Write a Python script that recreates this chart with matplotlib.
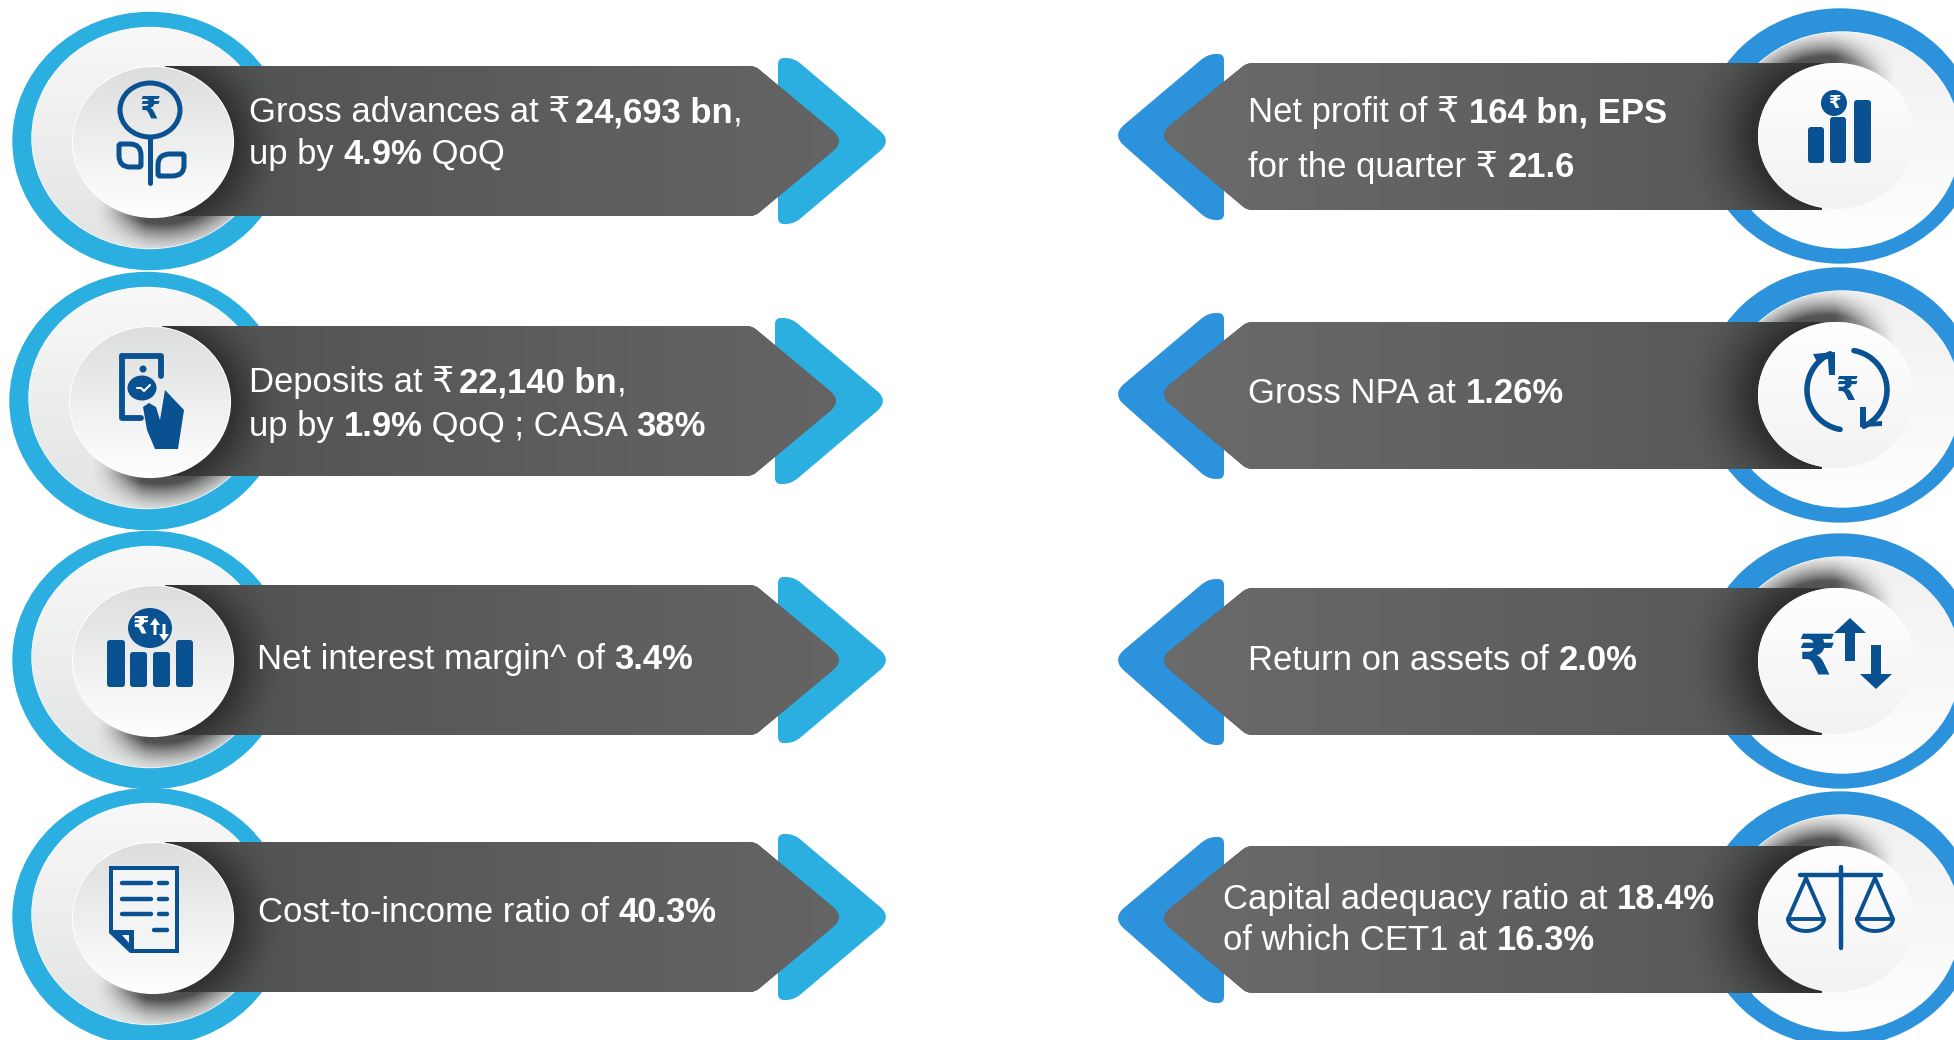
#!/usr/bin/env python3
"""plot.py -- quarterly highlights infographic, eight arrow cards."""
import matplotlib
matplotlib.use("Agg")
import matplotlib.pyplot as plt
import numpy as np
from matplotlib.colors import to_rgb
from matplotlib.patches import Circle, Ellipse, FancyBboxPatch, PathPatch, Polygon
from matplotlib.path import Path

# text of the cards, one list of (text, bold) runs per line
left_labels = [
    [[("Gross advances at ₹ ", 0), ("24,693 bn", 1), (",", 0)],
     [("up by ", 0), ("4.9%", 1), (" QoQ", 0)]],
    [[("Deposits at ₹ ", 0), ("22,140 bn", 1), (",", 0)],
     [("up by ", 0), ("1.9%", 1), (" QoQ ; CASA ", 0), ("38%", 1)]],
    [[("Net interest margin^ of ", 0), ("3.4%", 1)]],
    [[("Cost-to-income ratio of ", 0), ("40.3%", 1)]],
]
right_labels = [
    [[("Net profit of ₹ ", 0), ("164 bn, EPS", 1)],
     [("for the quarter ₹ ", 0), ("21.6", 1)]],
    [[("Gross NPA at ", 0), ("1.26%", 1)]],
    [[("Return on assets of ", 0), ("2.0%", 1)]],
    [[("Capital adequacy ratio at ", 0), ("18.4%", 1)],
     [("of which CET1 at ", 0), ("16.3%", 1)]],
]

# layout, in pixels of the 1954x1040 picture
left_cy = [141, 401, 660, 917]
left_dx = [0, -3, 0, 0]
left_text = [[(249, 122), (249, 164)], [(249, 392), (249, 436)], [(257, 669)], [(258, 922)]]
right_cy = [137, 396, 662, 920]
right_text = [[(1248, 122), (1248, 177)], [(1248, 403)], [(1248, 670)], [(1223, 909), (1223, 950)]]

FONT = ["Liberation Sans", "DejaVu Sans"]
FS = 24.9
LEFT_BLUE = "#2baee0"
RIGHT_BLUE = "#2d92dc"
ICON = "#0a5191"

fig = plt.figure(figsize=(19.54, 10.4), dpi=100)
ax = fig.add_axes([0, 0, 1, 1])
ax.set_xlim(0, 1954)
ax.set_ylim(1040, 0)
ax.axis("off")
renderer = fig.canvas.get_renderer()


def rounded(pts, radii):
    """Closed path through pts, each corner rounded by its own radius."""
    pts = [np.array(p, float) for p in pts]
    n = len(pts)
    verts, codes = [], []
    for i in range(n):
        p, a, b = pts[i], pts[i - 1], pts[(i + 1) % n]
        r1 = min(radii[i], np.linalg.norm(a - p) / 2)
        r2 = min(radii[i], np.linalg.norm(b - p) / 2)
        s = p + (a - p) / np.linalg.norm(a - p) * r1
        e = p + (b - p) / np.linalg.norm(b - p) * r2
        verts += [s, p, e]
        codes += [Path.MOVETO if i == 0 else Path.LINETO, Path.CURVE3, Path.CURVE3]
    verts.append(verts[0])
    codes.append(Path.CLOSEPOLY)
    return Path(verts, codes)


def gradient(box, c0, c1, clip, z, vertical=False):
    x0, x1, y0, y1 = box
    c0, c1 = np.array(to_rgb(c0)), np.array(to_rgb(c1))
    t = np.linspace(0, 1, 256)
    img = c0[None, :] + (c1 - c0)[None, :] * t[:, None]
    img = img[:, None, :] if vertical else img[None, :, :]
    im = ax.imshow(img, extent=(x0, x1, y1, y0), aspect="auto", zorder=z, interpolation="bilinear")
    im.set_clip_path(clip)


def glow(cx, cy, rx, ry, spread, alpha, clip, z, box, mask=None):
    """Dark shadow fading out from the edge of an ellipse."""
    x0, x1, y0, y1 = box
    xx, yy = np.meshgrid(np.linspace(x0, x1, 300), np.linspace(y0, y1, 300))
    d = (np.hypot((xx - cx) / rx, (yy - cy) / ry) - 1) * min(rx, ry)
    a = np.clip(1 - d / spread, 0, 1) ** 1.6 * alpha
    if mask is not None:
        a = a * mask(xx, yy)
    img = np.zeros(xx.shape + (4,))
    img[..., :3] = 0.12
    img[..., 3] = a
    im = ax.imshow(img, extent=(x0, x1, y1, y0), aspect="auto", zorder=z, interpolation="bilinear")
    im.set_clip_path(clip)


def write_line(x, y, runs, rupee_gap=0):
    """Draw regular and bold runs one after the other on a baseline."""
    for s, bold in runs:
        weight = "bold" if bold else "normal"
        ax.text(x, y, s, color="white", fontsize=FS, family=FONT, fontweight=weight, va="baseline", zorder=12)
        a = ax.text(0, 0, s + "|", fontsize=FS, family=FONT, fontweight=weight)
        b = ax.text(0, 0, "|", fontsize=FS, family=FONT, fontweight=weight)
        x += a.get_window_extent(renderer).width - b.get_window_extent(renderer).width
        if s.endswith("₹ "):
            x -= rupee_gap
        a.remove()
        b.remove()


def left_card(cy, dx):
    ax.add_patch(Ellipse((150 + dx, cy), 274, 257, color=LEFT_BLUE, zorder=1))
    plate = Ellipse((150 + dx, cy - 3), 236, 221, color="white", zorder=2)
    ax.add_patch(plate)
    gradient((30 + dx, 270 + dx, cy - 115, cy + 110), "#f8f8f8", "#e2e3e3", plate, 3, vertical=True)
    band = lambda xx, yy: np.clip((yy - cy - 45) / 30, 0, 1) * np.clip((xx - 95 - dx) / 50, 0, 1)
    glow(163 + dx, cy + 8, 80, 75, 30, 0.75, plate, 4, (40 + dx, 280 + dx, cy + 30, cy + 120), band)
    chev = rounded([(778 + dx, cy - 83), (794 + dx, cy - 83), (892 + dx, cy), (794 + dx, cy + 83),
                    (778 + dx, cy + 83)], [6, 9, 16, 9, 6])
    ax.add_patch(PathPatch(chev, color=LEFT_BLUE, lw=0, zorder=5))
    bar = PathPatch(rounded([(165 + dx, cy - 75), (755 + dx, cy - 75), (845 + dx, cy), (755 + dx, cy + 75),
                             (165 + dx, cy + 75)], [1, 5, 16, 5, 1]), color="#5e5f5e", lw=0, zorder=6)
    ax.add_patch(bar)
    gradient((165 + dx, 850 + dx, cy - 75, cy + 75), "#505251", "#656565", bar, 7)
    glow(158 + dx, cy + 3, 80, 75, 48, 0.62, bar, 8, (165 + dx, 320 + dx, cy - 76, cy + 76))
    disc = Ellipse((153 + dx, cy + 1), 160, 150, fc="white", ec="white", lw=1.5, zorder=9)
    ax.add_patch(disc)
    gradient((70 + dx, 236 + dx, cy - 75, cy + 76), "#dcdddd", "#ffffff", disc, 9.5, vertical=True)


def right_card(cy):
    ax.add_patch(Ellipse((1840, cy - 1), 274, 254, color=RIGHT_BLUE, zorder=1))
    plate = Ellipse((1842, cy + 3), 236, 216, color="white", zorder=2)
    ax.add_patch(plate)
    gradient((1720, 1960, cy - 105, cy + 110), "#f0f0f0", "#ffffff", plate, 3, vertical=True)
    band = lambda xx, yy: np.clip((cy - 35 - yy) / 30, 0, 1) * np.clip((1895 - xx) / 60, 0, 1)
    glow(1826, cy - 6, 80, 75, 28, 0.75, plate, 4, (1720, 1960, cy - 110, cy), band)
    chev = rounded([(1224, cy - 83), (1208, cy - 83), (1112, cy - 2), (1208, cy + 83),
                    (1224, cy + 83)], [6, 9, 16, 9, 6])
    ax.add_patch(PathPatch(chev, color=RIGHT_BLUE, lw=0, zorder=5))
    bar = PathPatch(rounded([(1822, cy - 74), (1247, cy - 74), (1158, cy - 2), (1247, cy + 73),
                             (1822, cy + 73)], [1, 5, 16, 5, 1]), color="#5e5f5e", lw=0, zorder=6)
    ax.add_patch(bar)
    gradient((1155, 1822, cy - 75, cy + 75), "#6b6b6b", "#545656", bar, 7)
    glow(1830, cy - 1, 78, 73, 62, 0.68, bar, 8, (1660, 1830, cy - 76, cy + 76))
    disc = Ellipse((1836, cy - 1), 156, 146, fc="white", lw=0, zorder=9)
    ax.add_patch(disc)
    gradient((1755, 1918, cy - 75, cy + 73), "#ffffff", "#f2f2f2", disc, 9.5, vertical=True)


def rupee(x, y, size, color=ICON):
    ax.text(x, y, "₹", color=color, fontsize=size, family=FONT, fontweight="bold", ha="center", va="center", zorder=11)


def fill(pts, color=ICON):
    ax.add_patch(Polygon(pts, closed=True, fc=color, ec="none", zorder=10.5))


def stroke(pts, lw=4.0, color=ICON):
    xs, ys = zip(*pts)
    ax.plot(xs, ys, color=color, lw=lw, solid_capstyle="round", solid_joinstyle="round", zorder=10.5)


def ring(x, y, rx, ry, lw=3.6):
    ax.add_patch(Ellipse((x, y), 2 * rx, 2 * ry, fc="none", ec=ICON, lw=lw, zorder=10.5))


def pill(x0, y0, x1, y1, r=4, color=ICON):
    ax.add_patch(FancyBboxPatch((x0 + r, y0 + r), x1 - x0 - 2 * r, y1 - y0 - 2 * r,
                                boxstyle=f"round,pad={r},rounding_size={r}", fc=color, ec="none", zorder=10.5))


def arrow_up(x, top, bottom, hw, sw, hh, color=ICON):
    fill([(x, top), (x + hw, top + hh), (x + sw, top + hh), (x + sw, bottom),
          (x - sw, bottom), (x - sw, top + hh), (x - hw, top + hh)], color)


def arrow_down(x, top, bottom, hw, sw, hh, color=ICON):
    fill([(x, bottom), (x + hw, bottom - hh), (x + sw, bottom - hh), (x + sw, top),
          (x - sw, top), (x - sw, bottom - hh), (x - hw, bottom - hh)], color)


def leaf(pts, radii):
    ax.add_patch(PathPatch(rounded(pts, radii), fc="none", ec=ICON, lw=3.6, zorder=10.5))


def icon_flower():
    ring(150, 110, 30, 27)
    rupee(150, 110, 22)
    stroke([(150, 137), (150, 183)], 3.6)
    leaf([(119, 144), (141, 144), (141, 167), (119, 167)], [2, 12, 2, 12])
    leaf([(158, 154), (184, 154), (184, 176), (158, 176)], [12, 2, 12, 2])


def icon_note():
    stroke([(122, 356), (161, 356), (161, 376)], 4.2)
    stroke([(122, 356), (122, 418), (141, 418)], 4.2)
    ax.add_patch(Circle((143, 369), 3.5, fc=ICON, ec="none", zorder=10.5))
    ax.add_patch(Ellipse((142, 388), 29, 25, fc=ICON, ec="none", zorder=10.5))
    stroke([(137, 388), (141, 388), (144, 391), (150, 385)], 1.5, "white")
    fill([(143, 407), (149, 403), (156, 407), (160, 420), (165, 390), (184, 410), (178, 449),
          (155, 449), (147, 430)])


def icon_bars():
    for x0, x1, y0 in [(107, 125, 640), (130, 147, 652), (153, 170, 652), (176, 193, 640)]:
        pill(x0, y0, x1, 687, 3)
    ax.add_patch(Ellipse((150, 628), 44, 40, fc=ICON, ec="none", zorder=10.5))
    rupee(141, 627, 17, "white")
    arrow_up(155, 618, 635, 5, 1.5, 7, "white")
    arrow_down(164, 624, 641, 5, 1.5, 7, "white")


def icon_doc():
    fill([(109, 866), (179, 866), (179, 953), (130, 953), (109, 933)], ICON)
    fill([(113, 870), (175, 870), (175, 949), (134, 949), (134, 930), (113, 930)], "#f3f4f4")
    fill([(122, 935), (129, 935), (129, 943)], "#f3f4f4")
    for y in [883, 899, 914]:
        stroke([(122, y), (151, y)], 3.2)
        stroke([(159, y), (167, y)], 3.2)
    stroke([(154, 930), (167, 930)], 3.2)


def icon_chart():
    for x0, x1, y0 in [(1808, 1824, 127), (1830, 1846, 117), (1854, 1871, 100)]:
        pill(x0, y0, x1, 163, 3)
    ax.add_patch(Ellipse((1834, 103), 26, 26, fc=ICON, ec="none", zorder=10.5))
    rupee(1834, 103, 13, "white")


def icon_cycle():
    def arc(t0, t1):
        t = np.radians(np.linspace(t0, t1, 40))
        return list(zip(1847 + 40 * np.cos(t), 390 + 40 * np.sin(t)))
    stroke(arc(100, 245), 4)
    stroke(arc(-80, 65), 4)
    fill([(1813, 354), (1835, 352), (1835, 375), (1829, 375), (1828, 359), (1816, 360)])
    fill([(1860, 407), (1866, 407), (1866, 422), (1882, 421), (1882, 426), (1860, 427)])
    rupee(1847, 392, 24)


def icon_updown():
    rupee(1817, 660, 40)
    arrow_up(1850, 618, 661, 16, 5, 15)
    arrow_down(1876, 645, 689, 16, 5, 15)


def icon_scale():
    stroke([(1841, 867), (1841, 948)], 3.2)
    stroke([(1800, 875), (1881, 875)], 3.2)
    for x in [1806, 1875]:
        stroke([(x - 18, 919), (x, 878), (x + 18, 919), (x - 18, 919)], 2.8)
        t = np.radians(np.linspace(0, 180, 30))
        stroke(list(zip(x + 18 * np.cos(t), 919 + 12 * np.sin(t))), 2.8)


for cy, dx, lines, pos in zip(left_cy, left_dx, left_labels, left_text):
    left_card(cy, dx)
    for runs, (x, y) in zip(lines, pos):
        write_line(x, y, runs, rupee_gap=5)

for cy, lines, pos in zip(right_cy, right_labels, right_text):
    right_card(cy)
    for runs, (x, y) in zip(lines, pos):
        write_line(x, y, runs)

icon_flower()
icon_note()
icon_bars()
icon_doc()
icon_chart()
icon_cycle()
icon_updown()
icon_scale()

ax.set_xlim(0, 1954)
ax.set_ylim(1040, 0)
fig.savefig("out.png", dpi=100, facecolor="white")
